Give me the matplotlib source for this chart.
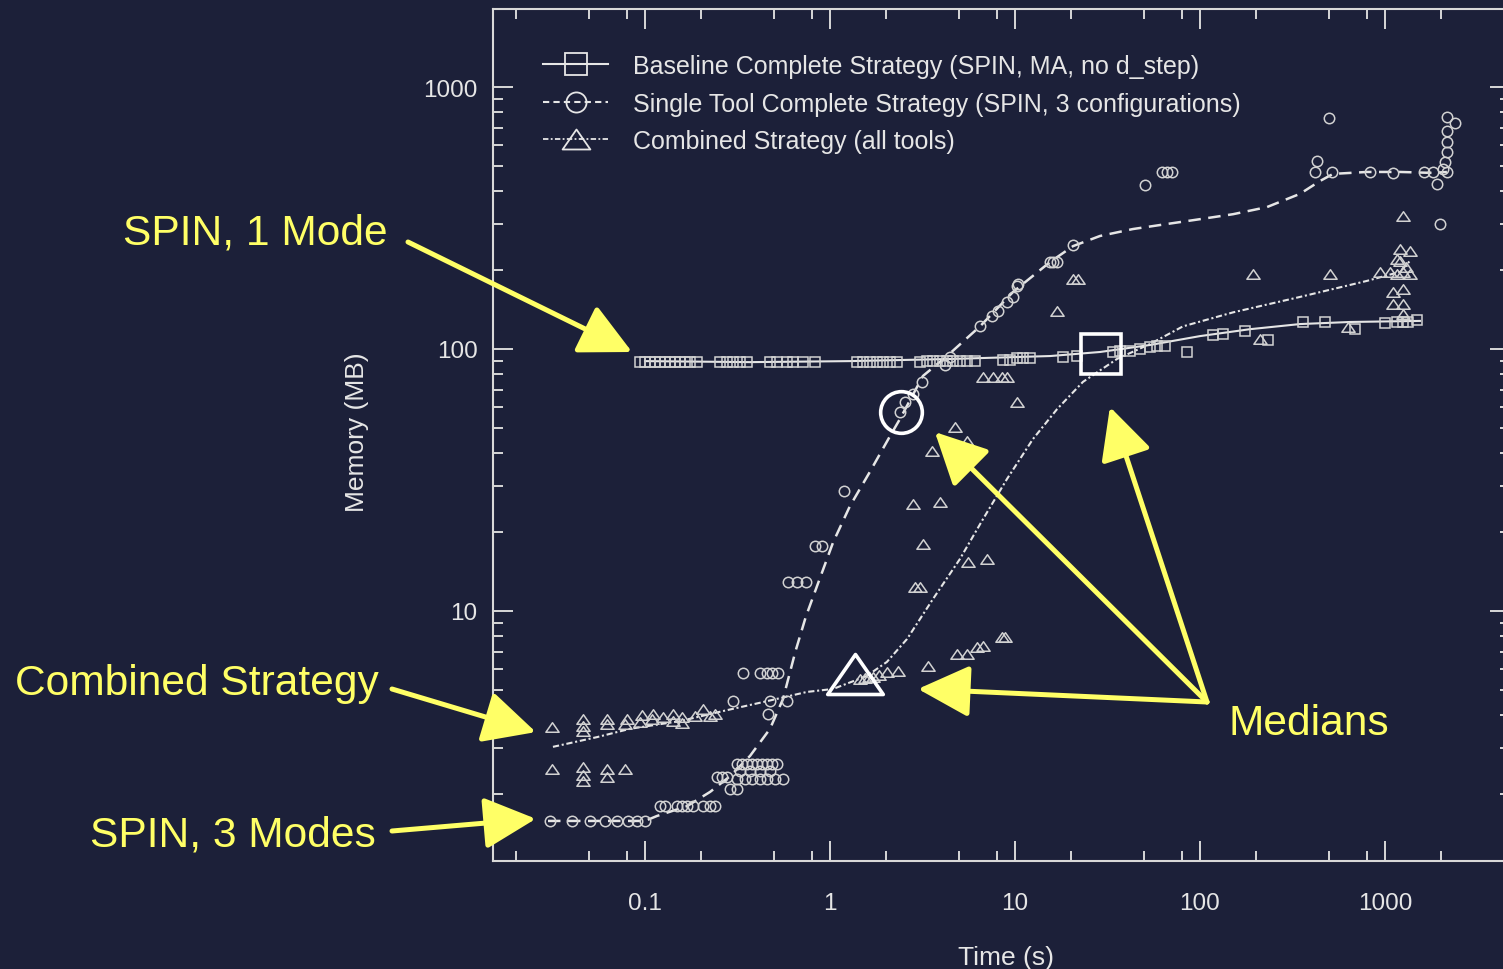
import matplotlib
matplotlib.use("Agg")
import numpy as np
import matplotlib.pyplot as plt
from matplotlib.lines import Line2D
from matplotlib.path import Path
from matplotlib.ticker import FixedLocator, FixedFormatter, LogLocator, NullFormatter

plt.rcParams['font.family'] = ['Liberation Sans', 'DejaVu Sans']

# ---------------------------------------------------------------- data
x_ticks = [0.1, 1, 10, 100, 1000]
x_tick_labels = ['0.1', '1', '10', '100', '1000']
y_ticks = [10, 100, 1000]
y_tick_labels = ['10', '100', '1000']

series_labels = [
    'Baseline Complete Strategy (SPIN, MA, no d_step)',
    'Single Tool Complete Strategy (SPIN, 3 configurations)',
    'Combined Strategy (all tools)',
]

# Baseline Complete Strategy: individual runs (time s, memory MB)
base_t = [0.094, 0.1, 0.106, 0.113, 0.12, 0.128, 0.137, 0.145, 0.155, 0.165, 0.175, 0.19,
          0.254, 0.277, 0.299, 0.326, 0.356,
          0.474, 0.517, 0.586, 0.631, 0.715, 0.83,
          1.40, 1.51, 1.64, 1.79, 1.93, 2.11, 2.30,
          3.07, 3.34, 3.60, 3.93, 4.29, 4.62, 5.04, 5.5, 6.08,
          8.63, 9.40, 10.2, 11.0, 12.0,
          18.1, 21.6, 33.9, 36.9, 41.8, 47.3, 53.7, 58.5, 64.9, 85,
          117, 133, 176, 233, 362, 473, 689, 1000, 1160, 1250, 1330, 1490]
base_mem = [89, 89, 89, 89, 89, 89, 89, 89, 89, 89, 89, 89,
            89, 89, 89, 89, 89,
            89, 89, 89, 89, 89, 89,
            89, 89, 89, 89, 89, 89, 89,
            89, 90, 90, 90, 90, 90, 90, 90, 90,
            91, 91, 92, 92, 92,
            93, 94, 97, 98, 98, 100, 102, 103, 103, 97,
            113, 114, 117, 108, 127, 127, 119, 126, 127, 127, 127, 129]

# Single Tool Complete Strategy: individual runs
single_t = [0.0306, 0.0405, 0.0503, 0.0607, 0.0705, 0.0808, 0.0906, 0.1,
            0.1205, 0.1283, 0.149, 0.158, 0.169, 0.182, 0.206, 0.225, 0.239,
            0.245, 0.261, 0.277, 0.288, 0.314,
            0.314, 0.335, 0.356, 0.379, 0.403, 0.429, 0.456, 0.486, 0.517,
            0.326, 0.370, 0.418, 0.474,
            0.314, 0.347, 0.379, 0.418, 0.456, 0.504, 0.557,
            0.299, 0.474, 0.586, 0.462,
            0.339, 0.418, 0.456, 0.486, 0.524,
            0.593, 0.663, 0.742, 0.83, 0.905, 1.19,
            2.39, 2.54, 2.81, 3.14, 4.18, 4.45,
            6.47, 7.5, 8.09, 9.05, 9.75, 10.2, 10.4,
            15.5, 16.1, 16.8, 20.6,
            50.4, 62.1, 66.3, 70.6,
            419, 429, 518, 827, 1111, 1622, 1817, 1914, 2064, 2162, 1979, 498,
            2162, 2377, 2162, 2162, 2162, 2109]
single_mem = [1.58, 1.58, 1.58, 1.58, 1.58, 1.58, 1.58, 1.58,
              1.80, 1.80, 1.80, 1.80, 1.80, 1.80, 1.80, 1.80, 1.80,
              2.32, 2.32, 2.32, 2.09, 2.09,
              2.61, 2.61, 2.61, 2.61, 2.61, 2.61, 2.61, 2.61, 2.61,
              2.45, 2.45, 2.45, 2.45,
              2.29, 2.29, 2.29, 2.29, 2.29, 2.29, 2.29,
              4.55, 4.55, 4.55, 4.05,
              5.8, 5.8, 5.8, 5.8, 5.8,
              12.9, 12.9, 12.9, 17.7, 17.7, 28.7,
              57.5, 62.8, 67.3, 74.8, 86.9, 93.1,
              122, 134, 140, 151, 158, 174, 177,
              215, 215, 215, 250,
              423, 474, 474, 474,
              474, 522, 474, 474, 470, 474, 474, 427, 486, 474, 300, 762,
              767, 729, 679, 617, 565, 518]

# Combined Strategy: individual runs
comb_t = [0.0316, 0.0464, 0.0464, 0.0464, 0.0624, 0.0624, 0.0778, 0.0799, 0.0939, 0.0962,
          0.109, 0.110, 0.125, 0.142, 0.142, 0.158, 0.158, 0.186, 0.206, 0.225, 0.239,
          0.0316, 0.0464, 0.0464, 0.0464, 0.0624, 0.0624, 0.0778,
          1.45, 1.55, 1.62, 1.71, 1.85, 2.03, 2.33, 3.39, 4.86, 5.5, 6.23, 6.71, 8.49, 8.83,
          2.88, 3.07, 5.57, 7.06, 3.18, 2.81, 3.93, 3.56, 5.5, 4.73,
          10.2, 6.71, 7.6, 8.49, 9.05,
          16.9, 20.6, 21.9,
          193, 211, 505, 632, 935, 1060,
          1259, 1205, 1365, 1161, 1259, 1161, 1365, 1111, 1259, 1099, 1247, 1247, 1205, 1300]
comb_mem = [3.61, 3.87, 3.64, 3.49, 3.70, 3.87, 3.70, 3.87, 3.77, 4.0,
            3.87, 4.05, 3.93, 4.05, 3.80, 3.93, 3.74, 3.97, 4.23, 3.97, 4.05,
            2.49, 2.54, 2.37, 2.24, 2.49, 2.32, 2.49,
            5.5, 5.55, 5.6, 5.59, 5.7, 5.85, 5.9, 6.17, 6.86, 6.86, 7.29, 7.35, 7.96, 7.96,
            12.4, 12.4, 15.4, 15.8, 18.0, 25.6, 26.1, 40.8, 44.6, 50.4,
            62.8, 78.2, 78.2, 78.2, 78.2,
            140, 185, 185,
            193, 109, 193, 121, 197, 197,
            322, 241, 237, 221, 197, 193, 193, 165, 169, 149, 149, 136, 217, 206]

# Smoothed trend of each strategy
base_curve_t = [0.1, 0.37, 1.28, 4.45, 15.5, 28.8, 53.7, 100, 186, 347, 647, 1545]
base_curve_mem = [89.9, 89.1, 89.9, 91.6, 94, 97.4, 103.6, 112, 119, 124.5, 126.8, 128]

single_curve_t = [0.0299, 0.1, 0.116, 0.169, 0.225, 0.288, 0.37, 0.474, 0.557, 0.65, 0.74,
                  0.851, 1.04, 1.28, 1.64, 2.11, 2.39, 3.18, 4.29, 6.47, 9.75, 15.5, 20.6,
                  28.8, 43.4, 66.3, 100, 151, 230, 347, 446, 524, 800, 1205, 1817, 2162]
single_curve_mem = [1.58, 1.58, 1.65, 1.80, 2.04, 2.34, 2.80, 3.55, 4.61, 7.0, 9.5,
                    12.45, 18.3, 25.1, 33.9, 46.5, 54.1, 78.9, 94, 122, 165, 215, 247,
                    270, 287, 300, 313, 327, 348, 391, 438, 466, 474, 474, 470, 474]

comb_curve_t = [0.0318, 0.055, 0.083, 0.155, 0.264, 0.434, 0.751, 1.04, 1.58, 2.03, 2.61,
                3.6, 5.04, 6.71, 9.05, 12.5, 16.9, 23.3, 35.6, 53.7, 80.9, 151, 347, 800,
                1205, 1365]
comb_curve_mem = [3.03, 3.30, 3.55, 3.80, 4.15, 4.49, 4.91, 5.04, 5.65, 6.39, 7.82,
                  11.1, 15.8, 22.4, 31.9, 45.3, 59, 74.9, 91.6, 104.5, 122, 138, 158, 182,
                  197, 217]

# Medians: baseline, single tool, combined
median_t = [29.2, 2.42, 1.365]
median_mem = [95.4, 57.5, 5.75]

# --------------------------------------------------------------- style
BG = '#1c2039'
FG = '#e6e6e6'
MK = '#d2d2d2'
YEL = '#ffff66'

tri = Path([(-1, -0.72), (1, -0.72), (0, 0.72), (-1, -0.72)],
           [Path.MOVETO, Path.LINETO, Path.LINETO, Path.CLOSEPOLY])
dashed = (0, (5, 3))
dashdot = (0, (3, 1.3, 1, 1.3))

fig = plt.figure(figsize=(15.03, 9.70), dpi=100, facecolor=BG)
ax = fig.add_axes([493 / 1503, 108 / 970, 1017 / 1503, 852 / 970])
ax.set_facecolor(BG)
ax.set_xscale('log')
ax.set_yscale('log')
ax.set_xlim(0.01508, 4740)
ax.set_ylim(1.111, 1985)

# trend curves
ax.plot(base_curve_t, base_curve_mem, color=FG, lw=1.5, zorder=3)
ax.plot(single_curve_t, single_curve_mem, color=FG, lw=1.8, linestyle=dashed, zorder=3)
ax.plot(comb_curve_t, comb_curve_mem, color=FG, lw=1.5, linestyle=dashdot, zorder=3)

# individual runs
ax.plot(base_t, base_mem, ls='none', marker='s', ms=7.5, mfc='none', mec=MK, mew=1.1, zorder=4)
ax.plot(single_t, single_mem, ls='none', marker='o', ms=7.5, mfc='none', mec=MK, mew=1.1, zorder=4)
ax.plot(comb_t, comb_mem, ls='none', marker=tri, ms=9.5, mfc='none', mec=MK, mew=1.1, zorder=4)

# medians
for m, ms, t, y in zip(['s', 'o', tri], [29.5, 30, 40], median_t, median_mem):
    ax.plot([t], [y], ls='none', marker=m, ms=ms, mfc='none', mec='white', mew=2.6, zorder=5)

# axes cosmetics
for s in ax.spines.values():
    s.set_color('#d8d8d8')
    s.set_linewidth(1.5)
ax.xaxis.set_major_locator(FixedLocator(x_ticks))
ax.xaxis.set_major_formatter(FixedFormatter(x_tick_labels))
ax.xaxis.set_minor_locator(LogLocator(base=10, subs=(2.0, 5.0, 8.0), numticks=30))
ax.xaxis.set_minor_formatter(NullFormatter())
ax.yaxis.set_major_locator(FixedLocator(y_ticks))
ax.yaxis.set_major_formatter(FixedFormatter(y_tick_labels))
ax.yaxis.set_minor_locator(LogLocator(base=10, subs=np.arange(2, 10), numticks=30))
ax.yaxis.set_minor_formatter(NullFormatter())
ax.tick_params(which='both', direction='in', top=True, right=True,
               color='#d8d8d8', labelcolor=FG, labelsize=17.5)
ax.tick_params(which='major', length=14.4, width=1.4)
ax.tick_params(which='minor', length=7.2, width=1.4)
ax.tick_params(axis='x', which='major', pad=22)
ax.tick_params(axis='y', which='major', pad=11)

ax.set_xlabel('Time (s)', fontsize=19, color=FG)
ax.xaxis.set_label_coords(0.5044, -0.099)
ax.set_ylabel('Memory (MB)', fontsize=19, color=FG)
ax.yaxis.set_label_coords(-0.122, 0.5047)

handles = [
    Line2D([], [], color=FG, lw=1.5, marker='s', ms=16, mfc='none', mec=FG, mew=1.3),
    Line2D([], [], color=FG, lw=1.5, linestyle=(0, (3, 2)), marker='o', ms=14.5,
           mfc='none', mec=FG, mew=1.3),
    Line2D([], [], color=FG, lw=1.3, linestyle=dashdot, marker=tri, ms=20,
           mfc='none', mec=FG, mew=1.3),
]
ax.legend(handles, series_labels, loc='upper left', bbox_to_anchor=(50 / 1017, 0.947),
          frameon=False, fontsize=18, labelcolor=FG, handlelength=2.6,
          handletextpad=1.0, labelspacing=0.54, borderpad=0, borderaxespad=0)

# call-outs
arrow_kw = dict(arrowstyle='-|>,head_length=1.6,head_width=0.8', mutation_scale=20,
                lw=3.6, color=YEL, shrinkA=0, shrinkB=0)


def pointer(xy, tail_px):
    ax.annotate('', xy=xy, xycoords='data',
                xytext=(tail_px[0] / 1503, 1 - tail_px[1] / 970),
                textcoords='figure fraction', arrowprops=arrow_kw,
                annotation_clip=False, zorder=10)


pointer((0.0851, 97.4), (408, 243))
pointer((0.0257, 3.45), (392, 690))
pointer((0.0257, 1.61), (392, 832))
pointer((3.69, 48.2), (1207, 703))
pointer((32.6, 60.1), (1207, 703))
pointer((2.99, 5.04), (1207, 703))

callouts = [('SPIN, 1 Mode', 123, 245), ('Combined Strategy', 15, 695),
            ('SPIN, 3 Modes', 90, 847), ('Medians', 1228, 735)]
for txt, px, py in callouts:
    fig.text(px / 1503, 1 - py / 970, txt, color=YEL, fontsize=30.6,
             ha='left', va='baseline')

fig.savefig('out.png', dpi=100, facecolor=BG)
